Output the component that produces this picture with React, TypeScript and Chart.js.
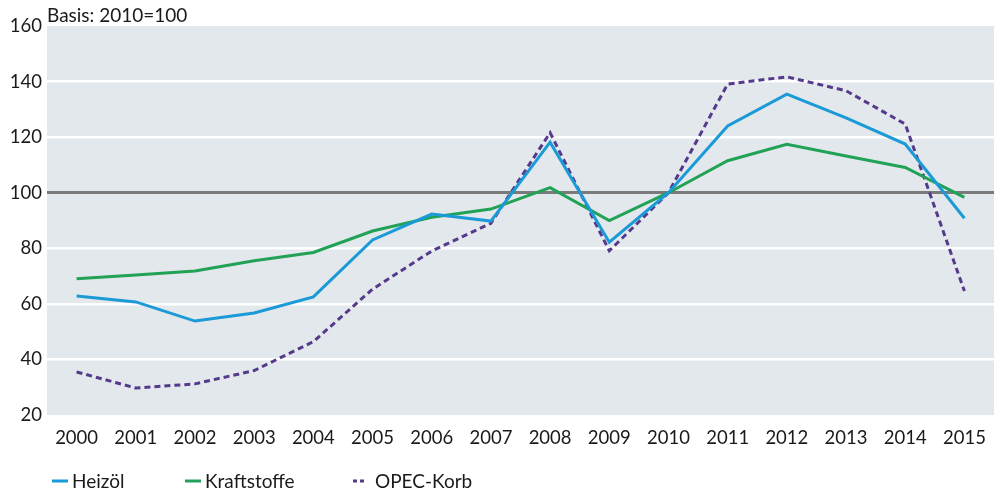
import React, { useEffect, useRef } from "react";
import { Chart, registerables } from "chart.js";

Chart.register(...registerables);

const years = ["2000", "2001", "2002", "2003", "2004", "2005", "2006", "2007", "2008", "2009", "2010", "2011", "2012", "2013", "2014", "2015"];
const heizoel = [62.8, 60.7, 53.8, 56.7, 62.5, 83.0, 92.3, 89.8, 118.2, 82.2, 100, 124.0, 135.5, 126.9, 117.5, 90.8];
const kraftstoffe = [69.0, 70.4, 71.8, 75.5, 78.5, 86.2, 91.2, 94.1, 101.8, 90.0, 100, 111.5, 117.4, 113.2, 109.1, 98.3];
const opecKorb = [35.5, 29.7, 31.2, 36.0, 46.4, 65.3, 79.0, 89.0, 121.6, 79.1, 100, 139.1, 141.7, 136.7, 124.7, 64.6];

const seriesNames = ["Heizöl", "Kraftstoffe", "OPEC-Korb"];
const seriesColors = ["#1a9ad6", "#22a256", "#553a8c"];
const basisLabel = "Basis: 2010=100";

const FONT = "Lato, 'Noto Sans', sans-serif";

const plotBackground = {
  id: "plotBackground",
  beforeDraw(chart: any) {
    const { ctx, chartArea } = chart;
    ctx.save();
    ctx.fillStyle = "#e3e8ec";
    ctx.fillRect(chartArea.left, chartArea.top, chartArea.right - chartArea.left, chartArea.bottom - chartArea.top);
    ctx.restore();
  },
};

const annotations = {
  id: "annotations",
  afterDraw(chart: any) {
    const { ctx, chartArea } = chart;
    ctx.save();
    ctx.fillStyle = "#1a1a1a";
    ctx.font = `19px ${FONT}`;
    ctx.textBaseline = "alphabetic";
    ctx.textAlign = "left";
    ctx.fillText(basisLabel, chartArea.left, 22);

    // legend row
    const legendX = [52, 185, 353];
    const y = 481;
    seriesNames.forEach((name, i) => {
      ctx.strokeStyle = seriesColors[i];
      ctx.lineWidth = 3;
      const dashed = i === 2;
      ctx.setLineDash(dashed ? [4, 3] : []);
      ctx.beginPath();
      ctx.moveTo(legendX[i], y);
      ctx.lineTo(legendX[i] + (dashed ? 11 : 16), y);
      ctx.stroke();
      ctx.setLineDash([]);
      ctx.fillStyle = "#1a1a1a";
      ctx.font = `19px ${FONT}`;
      ctx.textBaseline = "middle";
      ctx.fillText(name, legendX[i] + (dashed ? 22 : 20), y + 1);
    });
    ctx.restore();
  },
};

export default function App() {
  const canvasRef = useRef<HTMLCanvasElement>(null);

  useEffect(() => {
    if (!canvasRef.current) return;
    const chart = new Chart(canvasRef.current, {
      type: "line",
      data: {
        labels: years,
        datasets: [
          { label: seriesNames[0], data: heizoel, borderColor: seriesColors[0], borderWidth: 3, pointRadius: 0, tension: 0 },
          { label: seriesNames[1], data: kraftstoffe, borderColor: seriesColors[1], borderWidth: 3, pointRadius: 0, tension: 0 },
          { label: seriesNames[2], data: opecKorb, borderColor: seriesColors[2], borderWidth: 3, borderDash: [6, 4], pointRadius: 0, tension: 0 },
        ],
      },
      options: {
        animation: false,
        responsive: false,
        maintainAspectRatio: false,
        layout: { padding: { top: 26, right: 6, left: 0, bottom: 0 } },
        plugins: { legend: { display: false }, title: { display: false }, tooltip: { enabled: false } },
        scales: {
          x: {
            offset: true,
            grid: { display: false, drawTicks: false },
            border: { display: false },
            ticks: { color: "#1a1a1a", font: { family: FONT, size: 18.5 }, padding: 12, maxRotation: 0, autoSkip: false },
            afterFit: (s: any) => { s.height = 81; },
          },
          y: {
            min: 20,
            max: 160,
            ticks: { stepSize: 20, color: "#1a1a1a", font: { family: FONT, size: 18.5 }, padding: 5 },
            grid: {
              drawTicks: false,
              color: (c: any) => (c.tick && c.tick.value === 100 ? "#7a7a7a" : c.tick && (c.tick.value === 20 || c.tick.value === 160) ? "rgba(0,0,0,0)" : "#ffffff"),
              lineWidth: (c: any) => (c.tick && c.tick.value === 100 ? 3 : 2.5),
            },
            border: { display: false },
            afterFit: (s: any) => { s.width = 47; },
          },
        },
      },
      plugins: [plotBackground, annotations],
    });
    return () => chart.destroy();
  }, []);

  return (
    <div style={{ position: "fixed", left: 0, top: 0, width: 1000, height: 496, background: "#ffffff" }}>
      <canvas ref={canvasRef} width={1000} height={496} />
    </div>
  );
}
